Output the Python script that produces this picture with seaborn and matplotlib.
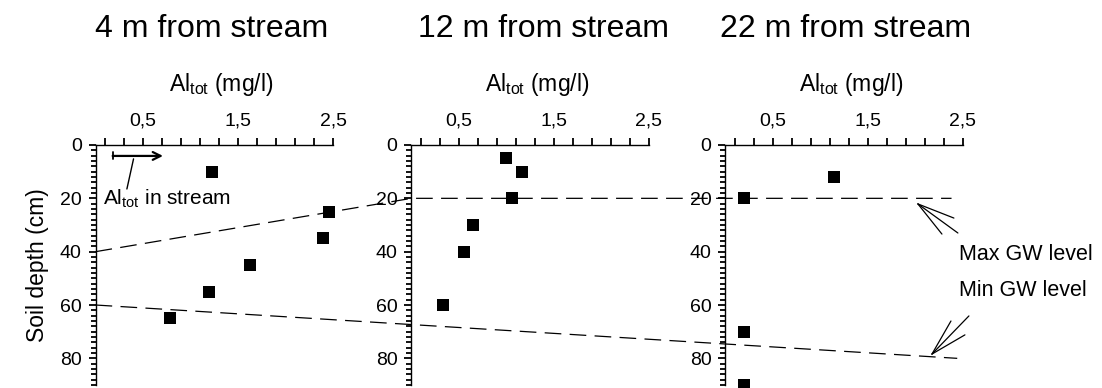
import numpy as np
import pandas as pd
import seaborn as sns
import matplotlib.pyplot as plt
from matplotlib.lines import Line2D
from matplotlib.ticker import FixedLocator, NullFormatter

# Al_tot (mg/l) vs soil depth (cm), three distances from the stream
titles = ['4 m from stream', '12 m from stream', '22 m from stream']
al_4m = [1.23, 2.46, 2.39, 1.63, 1.19, 0.78]
depth_4m = [10, 25, 35, 45, 55, 65]
al_12m = [0.99, 1.16, 1.06, 0.65, 0.55, 0.33]
depth_12m = [5, 10, 20, 30, 40, 60]
al_22m = [1.14, 0.20, 0.20, 0.20]
depth_22m = [12, 20, 70, 90]

# groundwater levels: (panel, Al, depth)
max_gw = [(0, 0.0, 40), (1, 0.0, 20), (2, 2.38, 20)]
min_gw = [(0, 0.0, 60), (2, 2.44, 80)]

sns.set_style('ticks')
plt.rcParams['font.family'] = ['Liberation Sans', 'DejaVu Sans']
plt.rcParams['mathtext.fontset'] = 'custom'
plt.rcParams['mathtext.rm'] = 'Liberation Sans'
plt.rcParams['lines.scale_dashes'] = False
plt.rcParams['text.color'] = 'black'
plt.rcParams['axes.labelcolor'] = 'black'

fig = plt.figure(figsize=(11.02, 3.88), dpi=100)
lefts = [0.0867, 0.3734, 0.6583]
axes = [fig.add_axes([l, 0.0077, 0.2155, 0.6186]) for l in lefts]

frames = [pd.DataFrame({'al': a, 'depth': d}) for a, d in
          [(al_4m, depth_4m), (al_12m, depth_12m), (al_22m, depth_22m)]]
title_x = [212, 544, 846]

for i, (ax, df) in enumerate(zip(axes, frames)):
    sns.scatterplot(data=df, x='al', y='depth', marker='s', s=72,
                    color='black', linewidth=0, ax=ax, zorder=5)
    ax.collections[-1].set_clip_on(False)
    ax.set_xlim(0, 2.5)
    ax.set_ylim(90, 0)
    ax.spines['right'].set_visible(False)
    ax.spines['bottom'].set_visible(False)
    for sp in ['top', 'left']:
        ax.spines[sp].set_linewidth(1.0)
        ax.spines[sp].set_color('black')
    ax.xaxis.set_ticks_position('top')
    ax.xaxis.set_label_position('top')
    ax.yaxis.set_ticks_position('left')
    ax.xaxis.set_major_locator(FixedLocator([0.5, 1.5, 2.5]))
    ax.xaxis.set_minor_locator(FixedLocator(np.arange(0.1, 2.5, 0.2)))
    ax.set_xticklabels(['0,5', '1,5', '2,5'])
    ax.yaxis.set_major_locator(FixedLocator([0, 20, 40, 60, 80]))
    ax.yaxis.set_minor_locator(FixedLocator(np.arange(0, 91, 2)))
    ax.yaxis.set_minor_formatter(NullFormatter())
    ax.tick_params(axis='both', which='both', direction='out',
                   color='black', labelcolor='black', width=1.3)
    ax.tick_params(axis='both', which='major', labelsize=14, length=5,
                   pad=5)
    ax.tick_params(axis='x', which='minor', length=5)
    ax.tick_params(axis='y', which='minor', length=3.5)
    ax.tick_params(axis='x', which='major', pad=6)
    ax.set_xlabel('')
    ax.set_ylabel('')
    ax.text(1.32, 1.25, r'Al$_\mathregular{tot}$ (mg/l)', fontsize=16.5,
            ha='center', va='center', transform=ax.get_xaxis_transform())
    fig.text(title_x[i] / 1102, 1 - 29 / 388, titles[i], fontsize=23,
             ha='center', va='center')

axes[0].set_ylabel('Soil depth (cm)', fontsize=16.5, labelpad=8)

# stream concentration arrow
a0 = axes[0]
a0.annotate('', xy=(0.71, 4.1), xytext=(0.18, 4.1),
            arrowprops=dict(arrowstyle='->', lw=1.6, color='black',
                            shrinkA=0, shrinkB=0, mutation_scale=14))
a0.plot([0.18, 0.18], [2.8, 5.4], color='black', lw=1.3)
a0.plot([0.33, 0.40], [16.5, 5.2], color='black', lw=1.0)
a0.text(0.08, 20, r'Al$_\mathregular{tot}$ in stream', fontsize=15,
        ha='left', va='center')

# groundwater dashed lines across the panels
def to_fig(panel, x, y):
    disp = axes[panel].transData.transform((x, y))
    return fig.transFigure.inverted().transform(disp)

for path in [max_gw, min_gw]:
    pts = np.array([to_fig(*p) for p in path])
    fig.add_artist(Line2D(pts[:, 0], pts[:, 1], color='black', lw=0.9,
                          dashes=(12, 6), transform=fig.transFigure))

# fan arrows and labels in last panel
a2 = axes[2]
max_tip = (2.026, 22.1)
max_ends = [(2.405, 27.4), (2.447, 33.0), (2.279, 33.4)]
min_tip = (2.174, 78.4)
min_ends = [(2.563, 64.1), (2.521, 71.2), (2.374, 66.0)]
for tip, ends in [(max_tip, max_ends), (min_tip, min_ends)]:
    for e in ends:
        a2.plot([tip[0], e[0]], [tip[1], e[1]], color='black', lw=0.9,
                clip_on=False)
a2.text(2.458, 41.2, 'Max GW level', fontsize=15.5, ha='left', va='center',
        clip_on=False)
a2.text(2.458, 54.4, 'Min GW level', fontsize=15.5, ha='left', va='center',
        clip_on=False)

fig.savefig('out.png', dpi=100)
